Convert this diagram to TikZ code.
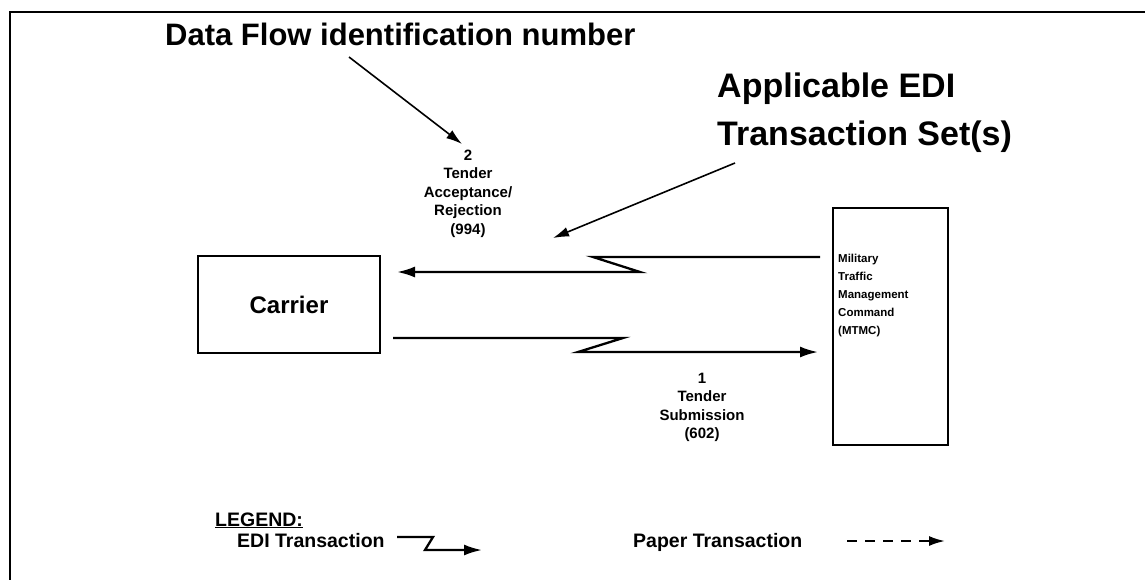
\documentclass[tikz,border=0pt]{standalone}
\usepackage{fontspec}
\setmainfont{Liberation Sans}
\usetikzlibrary{arrows.meta}
\begin{document}
\begin{tikzpicture}[x=1pt,y=-1pt,
  big/.style={font=\bfseries\fontsize{31}{36}\selectfont, inner sep=0pt},
  bigger/.style={font=\bfseries\fontsize{34}{40}\selectfont, inner sep=0pt},
  lbl/.style={font=\bfseries\fontsize{15}{18.5}\selectfont, align=center, inner sep=0pt},
  small/.style={font=\bfseries\fontsize{11.5}{18}\selectfont, align=left, inner sep=0pt},
  leg/.style={font=\bfseries\fontsize{19.5}{21}\selectfont, inner sep=0pt},
  box/.style={draw, line width=1.5pt, inner sep=0pt},
  flow/.style={line width=2.3pt, line join=miter, -{Latex[length=18pt,width=11pt]}},
  note/.style={line width=1.6pt, -{Latex[length=16pt,width=10pt]}}]
\useasboundingbox (0,0) rectangle (1145,579);
\clip (0,0) rectangle (1145,579);
\draw[line width=1.8pt] (10,12) rectangle (1170,610);

% headline texts
\node[big, anchor=base west] (dfid) at (165,45) {Data Flow identification number};
\node[bigger, anchor=base west] (edi1) at (717,97) {Applicable EDI};
\node[bigger, anchor=base west] (edi2) at (717,145) {Transaction Set(s)};

% boxes
\node[box, minimum width=182pt, minimum height=97pt, font=\bfseries\fontsize{24}{28}\selectfont] (carrier) at (289,304.5) {Carrier};
\node[box, minimum width=115pt, minimum height=237pt] (mtmc) at (890.5,326.5) {};
\node[small, anchor=west] (mtmctext) at (838,296) {Military\\Traffic\\Management\\Command\\(MTMC)};

% flow labels
\node[lbl] (l2) at (468,193.5) {2\\Tender\\Acceptance/\\Rejection\\(994)};
\node[lbl] (l1) at (702,407.5) {1\\Tender\\Submission\\(602)};

% annotation arrows
\coordinate (a1s) at (349,57);
\coordinate (a1e) at (462,144);
\draw[note] (a1s) -- (a1e);
\coordinate (a2s) at (735,163);
\coordinate (a2e) at (553,238);
\draw[note] (a2s) -- (a2e);

% upper EDI bolt (MTMC -> Carrier)
\coordinate (u1) at (820,257);
\coordinate (u2) at (593,257);
\coordinate (u3) at (640,272);
\coordinate (u4) at (397,272);
\draw[flow] (u1) -- (u2) -- (u3) -- (u4);

% lower EDI bolt (Carrier -> MTMC)
\coordinate (d1) at (393,338);
\coordinate (d2) at (623,338);
\coordinate (d3) at (578,352);
\coordinate (d4) at (818,352);
\draw[flow] (d1) -- (d2) -- (d3) -- (d4);

% legend
\node[leg, anchor=base west] (legend) at (215,526) {\underline{LEGEND:}};
\node[leg, anchor=base west] (editxt) at (237,547) {EDI Transaction};
\coordinate (e1) at (397,537);
\coordinate (e2) at (433,537);
\coordinate (e3) at (425,550);
\coordinate (e4) at (482,550);
\draw[flow] (e1) -- (e2) -- (e3) -- (e4);
\node[leg, anchor=base west] (papertxt) at (633,547) {Paper Transaction};
\coordinate (p1) at (847,541);
\coordinate (p2) at (945,541);
\draw[line width=2pt, dash pattern=on 10pt off 8pt, -{Latex[length=16pt,width=10pt]}] (p1) -- (p2);
\end{tikzpicture}
\end{document}
